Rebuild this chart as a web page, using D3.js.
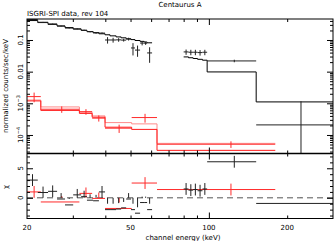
<!DOCTYPE html>
<html>
<head>
<meta charset="utf-8">
<script src="https://cdn.jsdelivr.net/npm/d3@7"></script>
<style>
body { margin: 0; background: #fff; }
text { font-family: "DejaVu Sans", sans-serif; font-size: 7px; fill: #000; }
</style>
</head>
<body>
<div id="chart"></div>
<script>
// ISGRI points (black, 20-60 keV)
const isgriEdges = [20, 22, 24.1, 26.1, 28, 30.1, 32.3, 34, 35.9, 37.8, 39.9, 41.7, 44, 46, 48.1, 50.2, 52, 54.4, 56.4, 57.9, 60.5]
const isgriFlux  = [0.442, 0.363, 0.321, 0.275, 0.238, 0.225, 0.203, 0.182, 0.167, 0.165, 0.100, 0.100, 0.101, 0.099, 0.107, 0.056, 0.048, 0.080, 0.079, 0.039]
const isgriErr   = [0.010, 0.009, 0.009, 0.008, 0.007, 0.009, 0.008, 0.008, 0.009, 0.008, 0.023, 0.0175, 0.013, 0.010, 0.011, 0.0235, 0.0186, 0.0125, 0.009, 0.020]
const isgriModel = [0.411, 0.355, 0.311, 0.277, 0.247, 0.221, 0.201, 0.185, 0.171, 0.157, 0.146, 0.135, 0.125, 0.117, 0.109, 0.103, 0.0963, 0.0904, 0.0861, 0.0815]
const isgriResid = [3.0, 0.9, 1.1, -0.2, -1.2, 0.5, 0.2, -0.4, -0.5, 1.0, -2.0, -2.0, -1.9, -1.7, -0.2, -2.0, -2.6, -0.8, -0.8, -2.0]

// black high-energy points (80-300 keV)
const hiEdges = [80, 83.5, 87, 90.5, 94.5, 98.5, 152, 300]
const hiFlux  = [0.042, 0.041, 0.041, 0.040, 0.041, 0.0218, 2.08e-4]
const hiErr   = [0.008, 0.008, 0.008, 0.008, 0.008, 0.002, 9.5e-4]
const hiModel = [0.0292, 0.0275, 0.026, 0.0245, 0.0230, 0.0098, 1.107e-3]
const hiResid = [1.5, 1.3, 1.4, 1.2, 1.5, 6.1, -0.95]

// red points
const redEdges  = [20, 22.6, 31.8, 35.6, 39.9, 50.5, 63.2, 180]
const redFlux   = [1.63e-3, 6.5e-4, 5.45e-4, 3.4e-4, 1.64e-4, 3.55e-4, 5.1e-5]
const redErr    = [5.5e-4, 1.5e-4, 1.1e-4, 7.5e-5, 4.8e-5, 1.1e-4, 1.2e-5]
const redModel  = [1.19e-3, 5.97e-4, 4.80e-4, 3.64e-4, 1.76e-4, 1.50e-4, 3.27e-5]
const pinkModel = [1.27e-3, 7.69e-4, 5.23e-4, 4.0e-4, 2.46e-4, 2.24e-4, 5.43e-5]
const redResid  = [1.0, -0.7, 0.75, -0.1, -1.8, 2.5, 1.4]

const xMajor = [100]
const xMinor = [30, 40, 50, 60, 70, 80, 90, 200, 300]
const xLabels = [20, 50, 100, 200]
const yDecades = [1e-4, 1e-3, 0.01, 0.1]
const yDecadeLabels = [["10", "\u22124"], ["10", "\u22123"], ["0.01", ""], ["0.1", ""]]
const resMajor = [0, 5]
const resLabels = ["0", "5"]

const W = 334, H = 241
const left = 27, right = 333, topY = 19, midY = 153.5, botY = 218.5

const svg = d3.select("#chart").append("svg")
    .attr("width", W)
    .attr("height", H)

const x = d3.scaleLog().domain([20, 300]).range([left, right])
const y = d3.scaleLog().domain([2.6e-5, 0.46]).range([midY, topY])
const yr = d3.scaleLinear().domain([-3.5, 7.5]).range([botY, midY])

const defs = svg.append("defs")
defs.append("clipPath").attr("id", "clipTop").append("rect")
    .attr("x", left).attr("y", topY).attr("width", right - left).attr("height", midY - topY)
defs.append("clipPath").attr("id", "clipBot").append("rect")
    .attr("x", left).attr("y", midY).attr("width", right - left).attr("height", botY - midY)

const gTop = svg.append("g").attr("clip-path", "url(#clipTop)")
const gBot = svg.append("g").attr("clip-path", "url(#clipBot)")

function stepPath(edges, vals, ys) {
    let d = ""
    vals.forEach((v, i) => {
        d += (i === 0 ? "M" : "L") + x(edges[i]) + "," + ys(v) + "L" + x(edges[i + 1]) + "," + ys(v)
    })
    return d
}

function crosses(g, edges, vals, errs, ys, color) {
    const pts = vals.map((v, i) => ({lo: edges[i], hi: edges[i + 1], v: v, e: errs[i]}))
    g.append("g").selectAll("line").data(pts).join("line")
        .attr("x1", d => x(d.lo)).attr("x2", d => x(d.hi))
        .attr("y1", d => ys(d.v)).attr("y2", d => ys(d.v))
        .attr("stroke", color).attr("stroke-width", 1)
    g.append("g").selectAll("line").data(pts).join("line")
        .attr("x1", d => x((d.lo + d.hi) / 2)).attr("x2", d => x((d.lo + d.hi) / 2))
        .attr("y1", d => ys(d.v + d.e))
        .attr("y2", d => ys(Math.max(d.v - d.e, 1e-8)))
        .attr("stroke", color).attr("stroke-width", 1)
}

// models
gTop.append("path").attr("d", stepPath(redEdges, pinkModel, y))
    .attr("fill", "none").attr("stroke", "#ff8a8a").attr("stroke-width", 1)
gTop.append("path").attr("d", stepPath(redEdges, redModel, y))
    .attr("fill", "none").attr("stroke", "#ff1a1a").attr("stroke-width", 1)
gTop.append("path").attr("d", stepPath(isgriEdges, isgriModel, y))
    .attr("fill", "none").attr("stroke", "#000").attr("stroke-width", 1)
gTop.append("path").attr("d", stepPath(hiEdges, hiModel, y))
    .attr("fill", "none").attr("stroke", "#000").attr("stroke-width", 1)

// data
crosses(gTop, redEdges, redFlux, redErr, y, "#ff2a2a")
crosses(gTop, isgriEdges, isgriFlux, isgriErr, y, "#222")
crosses(gTop, hiEdges, hiFlux, hiErr, y, "#222")

// residuals
gBot.append("line")
    .attr("x1", left).attr("x2", right).attr("y1", yr(0)).attr("y2", yr(0))
    .attr("stroke", "#555").attr("stroke-width", 1).attr("stroke-dasharray", "6,4")
crosses(gBot, redEdges, redResid, redResid.map(() => 1), yr, "#ff2a2a")
crosses(gBot, isgriEdges, isgriResid, isgriResid.map(() => 1), yr, "#222")
crosses(gBot, hiEdges, hiResid, hiResid.map(() => 1), yr, "#222")

// frames
svg.append("rect").attr("x", left).attr("y", topY).attr("width", right - left).attr("height", botY - topY)
    .attr("fill", "none").attr("stroke", "#000").attr("stroke-width", 1)
svg.append("line").attr("x1", left).attr("x2", right).attr("y1", midY).attr("y2", midY)
    .attr("stroke", "#000").attr("stroke-width", 1.6)

// ticks
function tickSet(axis, vals, len, where) {
    const g = svg.append("g").attr("transform", where)
        .call(axis.tickValues(vals).tickSize(-len).tickFormat(""))
    g.select(".domain").remove()
    g.selectAll(".tick line").attr("stroke", "#000")
}
const xMinorIn = xMinor.filter(v => v < 300)
;[topY, midY].forEach(yy => {
    tickSet(d3.axisTop(x), xMinorIn, 3, `translate(0,${yy})`)
    tickSet(d3.axisTop(x), xMajor, 6, `translate(0,${yy})`)
})
;[midY, botY].forEach(yy => {
    tickSet(d3.axisBottom(x), xMinorIn, 3, `translate(0,${yy})`)
    tickSet(d3.axisBottom(x), xMajor, 6, `translate(0,${yy})`)
})

const yMinor = []
;[1e-5, 1e-4, 1e-3, 0.01, 0.1].forEach(dec => {
    for (let k = 2; k <= 9; k++) {
        const v = dec * k
        if (v > 2.6e-5 && v < 0.46) yMinor.push(v)
    }
})
tickSet(d3.axisLeft(y), yMinor, 3, `translate(${left},0)`)
tickSet(d3.axisLeft(y), yDecades, 6, `translate(${left},0)`)
tickSet(d3.axisRight(y), yMinor, 3, `translate(${right},0)`)
tickSet(d3.axisRight(y), yDecades, 6, `translate(${right},0)`)

const resMinor = d3.range(-3, 8).filter(v => !resMajor.includes(v))
tickSet(d3.axisLeft(yr), resMinor, 3, `translate(${left},0)`)
tickSet(d3.axisLeft(yr), resMajor, 6, `translate(${left},0)`)
tickSet(d3.axisRight(yr), resMinor, 3, `translate(${right},0)`)
tickSet(d3.axisRight(yr), resMajor, 6, `translate(${right},0)`)

// labels
svg.append("g").selectAll("text").data(xLabels).join("text")
    .attr("x", d => x(d)).attr("y", 230)
    .attr("text-anchor", "middle")
    .text(d => d)

yDecades.forEach((v, i) => {
    const t = svg.append("text")
        .attr("transform", `translate(23,${y(v)}) rotate(-90)`)
        .attr("text-anchor", "middle")
    t.append("tspan").text(yDecadeLabels[i][0])
    if (yDecadeLabels[i][1]) {
        t.append("tspan").attr("dy", -3).style("font-size", "5px").text(yDecadeLabels[i][1])
    }
})
resMajor.forEach((v, i) => {
    svg.append("text")
        .attr("transform", `translate(23,${yr(v)}) rotate(-90)`)
        .attr("text-anchor", "middle")
        .text(resLabels[i])
})

svg.append("text").attr("x", 180).attr("y", 7).attr("text-anchor", "middle").text("Centaurus A")
svg.append("text").attr("x", left).attr("y", 15.5).text("ISGRI-SPI data, rev 104")
svg.append("text").attr("x", 183).attr("y", 239.5).attr("text-anchor", "middle").text("channel energy (keV)")
svg.append("text")
    .attr("transform", "translate(8,86) rotate(-90)")
    .attr("text-anchor", "middle")
    .text("normalized counts/sec/keV")
svg.append("text")
    .attr("transform", "translate(8,187) rotate(-90)")
    .attr("text-anchor", "middle")
    .text("\u03c7")
</script>
</body>
</html>
